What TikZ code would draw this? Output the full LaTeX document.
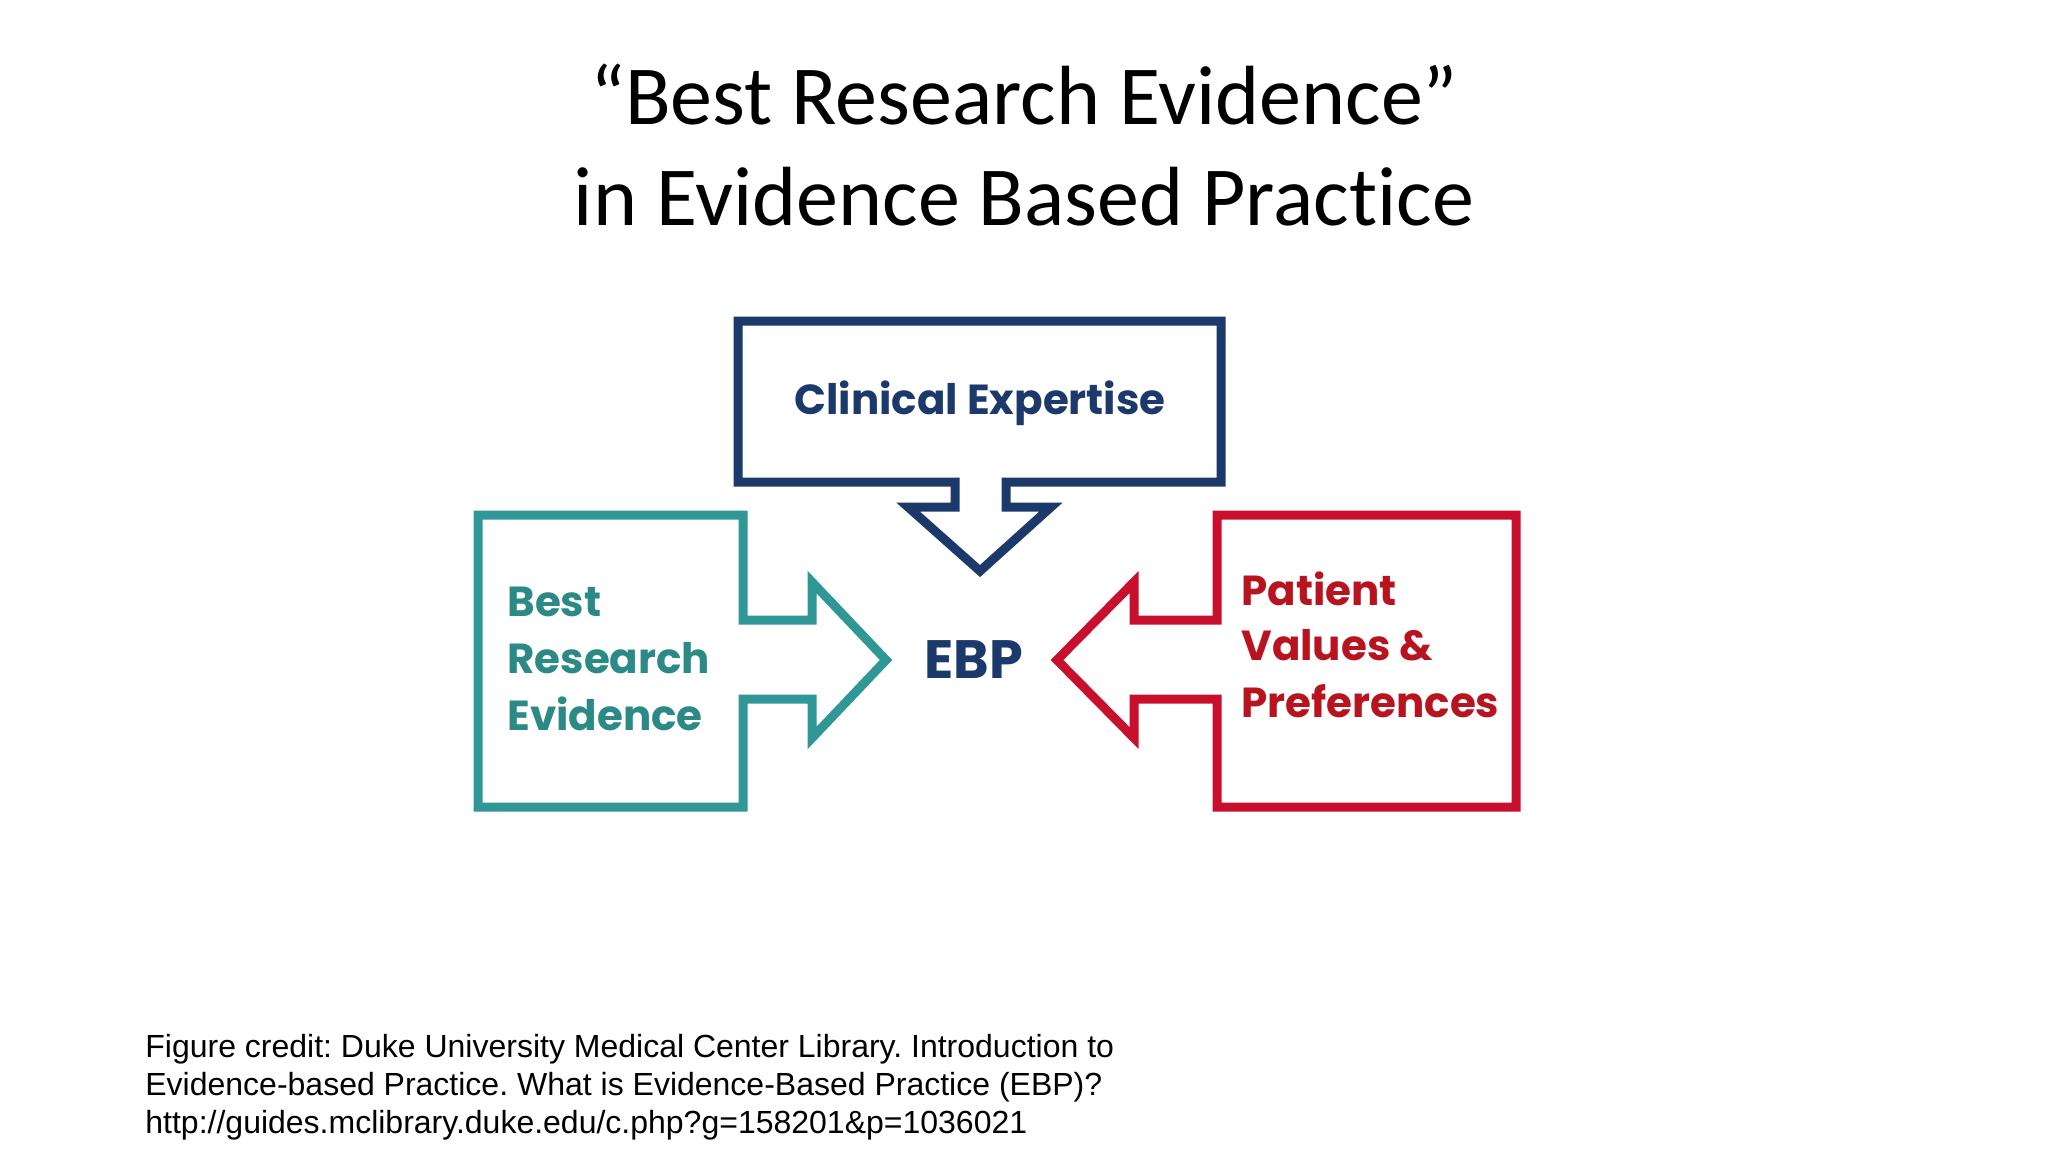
\documentclass[tikz,border=0pt]{standalone}
\usepackage{fontspec}
\newfontfamily\titlefont[Ligatures={TeX,NoCommon}]{Carlito}
\newfontfamily\creditfont{Liberation Sans}
\newfontfamily\boxfont{Poppins}
\definecolor{ebpnavy}{HTML}{1B3A6B}
\definecolor{ebpteal}{HTML}{2F9896}
\definecolor{ebptealtext}{HTML}{2B8986}
\definecolor{ebpred}{HTML}{C8102E}
\definecolor{ebpredtext}{HTML}{B8141F}
\frenchspacing

\begin{document}
\begin{tikzpicture}
      [%%%%%%%%%%%%%%%%%%%%%%%%%%%%%%
      x=0.5pt, y=-0.5pt,
      frame/.style={line width=4.5pt, line join=miter},
      title/.style={font=\titlefont\fontsize{42}{50}\selectfont, anchor=base},
      lbl/.style={font=\boxfont\bfseries\fontsize{21}{28}\selectfont, anchor=west, inner sep=0pt},
      credit/.style={font=\creditfont\fontsize{16}{19}\selectfont, anchor=base west, inner sep=0pt},
      ]%%%%%%%%%%%%%%%%%%%%%%%%%%%%%%

      \useasboundingbox[fill=white] (0,0) rectangle (2048,1152);

      % title
      \node[title] (title1) at (1024,124) {“Best Research Evidence”};
      \node[title] (title2) at (1024,225) {in Evidence Based Practice};

      % clinical expertise, pointing down
      \draw[frame, ebpnavy] (738,321) -- (1221,321) -- (1221,482) -- (1006,482)
        -- (1006,507) -- (1051,507) -- (980,571) -- (908,507) -- (955,507)
        -- (955,482) -- (738,482) -- cycle;
      \node[lbl, anchor=center, text=ebpnavy] (clin) at (980,403) {Clinical Expertise};

      % research evidence, pointing right
      \draw[frame, ebpteal] (478,515) -- (743,515) -- (743,620) -- (812,620)
        -- (812,582) -- (886,660) -- (812,738) -- (812,699) -- (743,699)
        -- (743,807) -- (478,807) -- cycle;
      \node[lbl, text=ebptealtext] (best) at (507,602) {Best};
      \node[lbl, text=ebptealtext] (research) at (507,658) {Research};
      \node[lbl, text=ebptealtext] (evid) at (507,714) {Evidence};

      % patient values, pointing left
      \draw[frame, ebpred] (1516,515) -- (1217,515) -- (1217,620) -- (1134,620)
        -- (1134,582) -- (1057,660) -- (1134,738) -- (1134,699) -- (1217,699)
        -- (1217,807) -- (1516,807) -- cycle;
      \node[lbl, text=ebpredtext] (patient) at (1241,589) {Patient};
      \node[lbl, text=ebpredtext] (values) at (1241,645) {Values \&};
      \node[lbl, text=ebpredtext] (prefs) at (1241,701) {Preferences};

      \node[lbl, anchor=center, text=ebpnavy, font=\boxfont\bfseries\fontsize{27}{30}\selectfont] (ebp) at (974,660) {EBP};

      % credit
      \node[credit] (cred1) at (145,1057) {Figure credit: Duke University Medical Center Library. Introduction to};
      \node[credit] (cred2) at (145,1095) {Evidence-based Practice. What is Evidence-Based Practice (EBP)?};
      \node[credit] (cred3) at (145,1133) {http://guides.mclibrary.duke.edu/c.php?g=158201\&p=1036021};
    \end{tikzpicture}
\end{document}
